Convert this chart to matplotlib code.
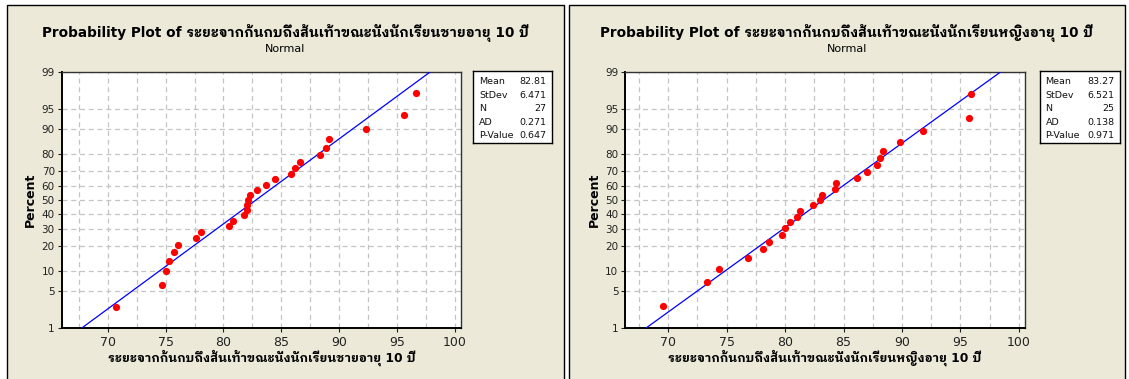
import numpy as np
import matplotlib
matplotlib.use("Agg")
import matplotlib.pyplot as plt
from matplotlib.patches import Rectangle
from matplotlib import font_manager
from matplotlib.ft2font import FT2Font
from statistics import NormalDist

# ---------------------------------------------------------------- data
boys_title = "Probability Plot of ระยะจากก้นกบถึงส้นเท้าขณะนั่งนักเรียนชายอายุ 10 ปี"
boys_xlabel = "ระยะจากก้นกบถึงส้นเท้าขณะนั่งนักเรียนชายอายุ 10 ปี"
boys_values = [70.73, 74.73, 75.01, 75.27, 75.76, 76.10, 77.67, 78.04, 80.46,
               80.86, 81.81, 82.05, 82.05, 82.10, 82.33, 82.88, 83.72, 84.49,
               85.82, 86.16, 86.66, 88.32, 88.84, 89.10, 92.36, 95.64, 96.65]
boys_stats = [("Mean", "82.81"), ("StDev", "6.471"), ("N", "27"),
              ("AD", "0.271"), ("P-Value", "0.647")]
boys_xlim = (66.02, 100.56)

girls_title = "Probability Plot of ระยะจากก้นกบถึงส้นเท้าขณะนั่งนักเรียนหญิงอายุ 10 ปี"
girls_xlabel = "ระยะจากก้นกบถึงส้นเท้าขณะนั่งนักเรียนหญิงอายุ 10 ปี"
girls_values = [69.57, 73.34, 74.34, 76.85, 78.13, 78.60, 79.76, 80.00, 80.45,
                81.04, 81.27, 82.39, 82.99, 83.13, 84.25, 84.33, 86.16, 86.99,
                87.89, 88.15, 88.41, 89.84, 91.83, 95.77, 95.89]
girls_stats = [("Mean", "83.27"), ("StDev", "6.521"), ("N", "25"),
               ("AD", "0.138"), ("P-Value", "0.971")]
girls_xlim = (66.32, 100.52)

subtitle = "Normal"
ylabel = "Percent"
percent_ticks = [1, 5, 10, 20, 30, 40, 50, 60, 70, 80, 90, 95, 99]
x_ticks = [70, 75, 80, 85, 90, 95, 100]
x_minor = [67.5, 72.5, 77.5, 82.5, 87.5, 92.5, 97.5]

# ---------------------------------------------------------------- fonts
def find_thai_family():
    """Pick an installed family with Thai glyphs, favouring one with a bold face."""
    families = {}
    for entry in font_manager.fontManager.ttflist:
        try:
            ft = FT2Font(entry.fname)
        except Exception:
            continue
        if ft.get_char_index(0x0E23) and ft.get_char_index(0x0E49):
            w = entry.weight if isinstance(entry.weight, int) else 400
            info = families.setdefault(entry.name, {"bold": False, "loop": False})
            if w >= 600:
                info["bold"] = True
            if "Looped" in entry.name:
                info["loop"] = True
    if not families:
        return None
    ranked = sorted(families.items(),
                    key=lambda kv: (not kv[1]["bold"],
                                    "Tahoma" not in kv[0],
                                    "Thai" not in kv[0],
                                    kv[1]["loop"] is False,
                                    kv[0]))
    return ranked[0][0]

thai = find_thai_family()
FAMILY = ["DejaVu Sans"] + ([thai] if thai else [])
plt.rcParams["font.family"] = FAMILY

# ---------------------------------------------------------------- geometry
W, H, DPI = 1129, 379, 100
BG = "#ECE9D8"


def fx(x):
    return x / W


def fy(y):
    return 1 - y / H


nd = NormalDist()
_ppf = np.vectorize(lambda v: nd.inv_cdf(v / 100.0), otypes=[float])
_cdf = np.vectorize(lambda v: nd.cdf(v) * 100.0, otypes=[float])


def forward(p):
    p = np.clip(np.asarray(p, dtype=float), 1e-6, 100 - 1e-6)
    return _ppf(p)


def inverse(z):
    return _cdf(np.asarray(z, dtype=float))


fig = plt.figure(figsize=(W / DPI, H / DPI), dpi=DPI, facecolor="white")


def panel(x0, x1, ax_left, ax_right, values, stats, xlim, title, xlabel,
          box_left, box_right):
    # beige panel frame
    fig.patches.append(Rectangle((fx(x0), fy(H + 5)), fx(x1 - x0), fy(5) - fy(H + 5),
                                 transform=fig.transFigure, facecolor=BG,
                                 edgecolor="black", linewidth=1.0, zorder=-10))
    top, bottom = 72.0, 328.0
    ax = fig.add_axes([fx(ax_left), fy(bottom), fx(ax_right - ax_left),
                       (bottom - top) / H])
    ax.set_facecolor("white")
    ax.set_yscale("function", functions=(forward, inverse))
    ax.set_ylim(1, 99)
    ax.set_xlim(*xlim)

    vals = np.sort(np.asarray(values, dtype=float))
    n = len(vals)
    ranks = np.arange(1, n + 1)
    pct = (ranks - 0.3) / (n + 0.4) * 100.0

    mean = float(stats[0][1])
    sd = float(stats[1][1])
    pline = np.linspace(1, 99, 200)
    zline = forward(pline)
    ax.plot(mean + zline * sd, pline, color="#0000FF", linewidth=0.9, zorder=3)
    ax.plot(vals, pct, linestyle="none", marker="o", markersize=5.2,
            color="#FF0000", markeredgewidth=0, zorder=4)

    ax.set_yticks(percent_ticks)
    ax.set_yticklabels([str(t) for t in percent_ticks])
    ax.set_yticks([], minor=True)
    ax.set_xticks(x_ticks)
    ax.set_xticklabels([str(t) for t in x_ticks])
    ax.set_xticks(x_minor, minor=True)
    ax.tick_params(axis="y", which="major", labelsize=7.5, length=3,
                   width=0.8, pad=2, colors="#222222")
    ax.tick_params(axis="x", which="major", labelsize=9, length=3,
                   width=0.8, pad=3, colors="#222222")
    ax.tick_params(axis="x", which="minor", length=0)
    ax.grid(True, which="both", color="#C4C4C4", linestyle=(0, (4, 3)),
            linewidth=0.9, zorder=1)
    ax.set_axisbelow(True)
    for side in ("left", "bottom"):
        ax.spines[side].set_color("black")
        ax.spines[side].set_linewidth(1.4)
    for side in ("top", "right"):
        ax.spines[side].set_color("#333333")
        ax.spines[side].set_linewidth(1.0)

    cx = (x0 + x1) / 2
    fig.text(fx(cx), fy(33), title, ha="center", va="center",
             fontsize=9.8, fontweight="bold", color="black")
    fig.text(fx(cx), fy(49), subtitle, ha="center", va="center",
             fontsize=8, color="black")
    fig.text(fx(ax_left - 31), fy(200), ylabel, ha="center", va="center",
             rotation=90, fontsize=9, fontweight="bold", color="black")
    fig.text(fx((ax_left + ax_right) / 2), fy(358), xlabel, ha="center",
             va="center", fontsize=8.8, fontweight="bold", color="black")

    # statistics box
    btop, bbot = 71.3, 143.3
    bax = fig.add_axes([fx(box_left), fy(bbot), fx(box_right - box_left),
                        (bbot - btop) / H])
    bax.set_xticks([])
    bax.set_yticks([])
    bax.set_facecolor("white")
    for s in bax.spines.values():
        s.set_color("black")
        s.set_linewidth(1.0)
    rows_y = [81.0, 95.0, 108.5, 122.3, 136.0]
    for (lab, val), ry in zip(stats, rows_y):
        fig.text(fx(box_left + 5.5), fy(ry), lab, ha="left", va="center",
                 fontsize=6.8, color="#111111")
        fig.text(fx(box_right - 5.5), fy(ry), val, ha="right", va="center",
                 fontsize=6.8, color="#111111")
    return ax


panel(6.7, 564.3, 61.7, 461.3, boys_values, boys_stats, boys_xlim,
      boys_title, boys_xlabel, 473.5, 552.0)
panel(568.7, 1125.0, 625.3, 1024.8, girls_values, girls_stats, girls_xlim,
      girls_title, girls_xlabel, 1040.0, 1120.0)

fig.savefig("out.png", dpi=DPI, facecolor="white")
